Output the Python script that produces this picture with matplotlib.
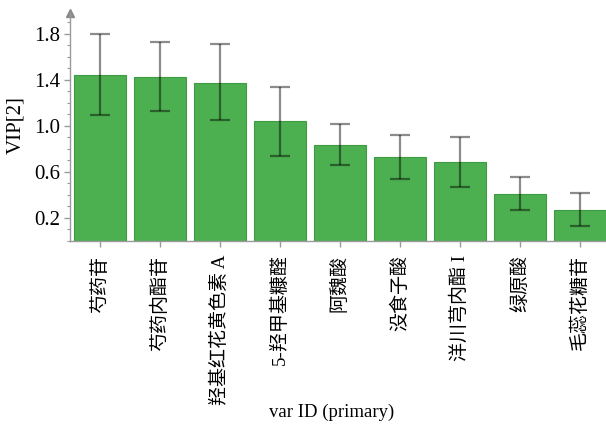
import matplotlib
matplotlib.use("Agg")
import matplotlib.pyplot as plt
from matplotlib.ticker import MultipleLocator

categories = ["芍药苷", "芍药内酯苷", "羟基红花黄色素 A", "5-羟甲基糠醛", "阿魏酸",
              "没食子酸", "洋川芎内酯 I", "绿原酸", "毛蕊花糖苷"]
vip = [1.44, 1.425, 1.375, 1.04, 0.835, 0.73, 0.682, 0.406, 0.267]
err_low = [0.35, 0.295, 0.325, 0.30, 0.18, 0.19, 0.215, 0.14, 0.143]
err_high = [0.36, 0.305, 0.335, 0.30, 0.18, 0.19, 0.218, 0.145, 0.15]
yticks = [0.2, 0.6, 1.0, 1.4, 1.8]

plt.rcParams['font.family'] = ['Liberation Serif', 'Noto Sans CJK SC', 'DejaVu Sans']

fig = plt.figure(figsize=(6.06, 4.28), dpi=100)
ax = fig.add_axes([0.1155, 0.4376, 0.891, 0.532])

x = list(range(len(categories)))
ax.bar(x, vip, width=0.87, color='#4caf50', edgecolor='#3e9b42', linewidth=0.8, zorder=2)
ax.errorbar(x, vip, yerr=[err_low, err_high], fmt='none', ecolor='black', alpha=0.45,
            elinewidth=1.6, capsize=7.5, capthick=1.6, zorder=3)

ax.set_xlim(-0.5, len(categories) - 0.5)
ax.set_ylim(0, 1.98)
ax.set_yticks(yticks)
ax.set_yticklabels([f"{v:.1f}" for v in yticks], fontsize=15)
ax.yaxis.set_minor_locator(MultipleLocator(0.1))
ax.set_xticks(x)
ax.set_xticklabels(categories, rotation=90, fontsize=13.7)

for s in ['top', 'right']:
    ax.spines[s].set_visible(False)
for s in ['left', 'bottom']:
    ax.spines[s].set_color('#9a9a9a')
    ax.spines[s].set_linewidth(1.0)
ax.tick_params(axis='y', which='major', length=4, color='#9a9a9a', width=1, pad=3)
ax.tick_params(axis='y', which='minor', length=2.5, color='#9a9a9a', width=0.8)
ax.tick_params(axis='x', which='major', length=4, color='#9a9a9a', width=1, pad=6)

ax.plot([0], [1.0], marker='^', color='#8a8a8a', markersize=6, transform=ax.transAxes,
        clip_on=False)

ax.set_ylabel("VIP[2]", fontsize=15)
ax.yaxis.set_label_coords(-0.083, 0.508)
ax.set_xlabel("var ID (primary)", fontsize=13.5)
ax.xaxis.set_label_coords(0.485, -0.715)

fig.savefig("out.png", dpi=100)
